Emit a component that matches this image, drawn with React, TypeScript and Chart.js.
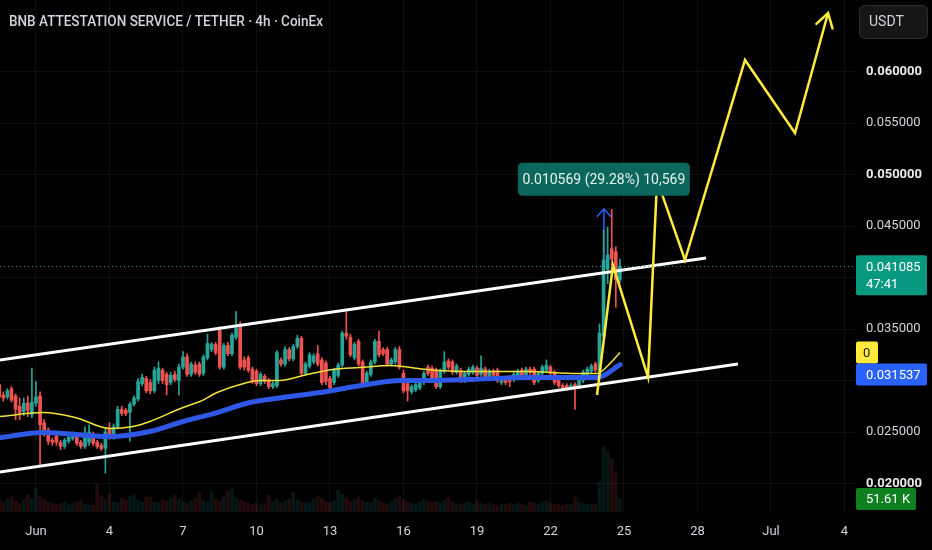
import React, { useEffect, useRef } from 'react';
import { Chart, registerables } from 'chart.js';

Chart.register(...registerables);

// ---------- text ----------
const TITLE = 'BNB ATTESTATION SERVICE / TETHER · 4h · CoinEx';
const CURRENCY = 'USDT';
const COUNTDOWN = '47:41';
const YELLOW_MA_LABEL = '0';

// ---------- time axis (days from Jun 1 00:00) ----------
const FIRST_CANDLE_DAY = -1.5;
const CANDLE_DAYS = 1 / 6; // 4h
const X_TICKS = [0, 3, 6, 9, 12, 15, 18, 21, 24, 27, 30, 33];
const X_MIN = -1.469;
const X_MAX = 33.47;

// ---------- price axis ----------
const Y_TICKS = [0.02, 0.025, 0.03, 0.035, 0.04, 0.045, 0.05, 0.055, 0.06];
const Y_MIN = 0.017233;
const Y_MAX = 0.066942;
const VOL_MAX = 2033;

// ---------- candles ----------
const opens = [
  0.0296, 0.0286, 0.0284, 0.0292, 0.0285, 0.0275, 0.027, 0.0278, 0.0267, 0.0278,
  0.0285, 0.0259, 0.0252, 0.0242, 0.0246, 0.024, 0.0236, 0.0241, 0.0244, 0.0247,
  0.024, 0.0236, 0.024, 0.0248, 0.024, 0.0237, 0.0234, 0.0254, 0.0245, 0.0255,
  0.0272, 0.0271, 0.0269, 0.0277, 0.0282, 0.0297, 0.0302, 0.0298, 0.029, 0.03,
  0.031, 0.0306, 0.0298, 0.0306, 0.03, 0.0313, 0.0323, 0.0306, 0.0315, 0.0316,
  0.0307, 0.0322, 0.033, 0.0335, 0.0349, 0.0313, 0.0334, 0.0326, 0.0342, 0.0353,
  0.032, 0.0322, 0.0311, 0.0309, 0.0297, 0.0304, 0.03, 0.0294, 0.0295, 0.032,
  0.0316, 0.033, 0.0321, 0.0333, 0.0341, 0.0307, 0.0314, 0.0318, 0.0326, 0.032,
  0.0317, 0.0302, 0.0298, 0.0305, 0.0315, 0.0346, 0.0342, 0.0322, 0.0338, 0.0318,
  0.0298, 0.0306, 0.0318, 0.0338, 0.033, 0.033, 0.0316, 0.0318, 0.033, 0.0307,
  0.0297, 0.0289, 0.0291, 0.0293, 0.0298, 0.0313, 0.0312, 0.031, 0.0294, 0.0309,
  0.0319, 0.0318, 0.0308, 0.031, 0.03, 0.0306, 0.0308, 0.0312, 0.0306, 0.0311,
  0.0303, 0.0309, 0.031, 0.0298, 0.0302, 0.0303, 0.0301, 0.0304, 0.031, 0.0305,
  0.0311, 0.0311, 0.03, 0.0307, 0.031, 0.0313, 0.0308, 0.03, 0.0295, 0.0295,
  0.0293, 0.0296, 0.0294, 0.03, 0.0306, 0.0309, 0.0316, 0.0309, 0.0343, 0.0408,
  0.0428, 0.0425, 0.0398,
];
const highs = [
  0.0298, 0.0289, 0.0292, 0.0294, 0.0287, 0.0283, 0.0283, 0.0285, 0.0312, 0.0299,
  0.0289, 0.0262, 0.0254, 0.0244, 0.025, 0.0242, 0.0244, 0.0247, 0.025, 0.0249,
  0.0242, 0.0255, 0.0257, 0.025, 0.0242, 0.0239, 0.0253, 0.0259, 0.0258, 0.0275,
  0.0275, 0.0273, 0.0279, 0.0285, 0.0302, 0.0306, 0.0304, 0.0301, 0.0313, 0.0318,
  0.0312, 0.0308, 0.0308, 0.0309, 0.0316, 0.0328, 0.0326, 0.0318, 0.0318, 0.0318,
  0.0325, 0.0345, 0.0337, 0.0337, 0.0352, 0.0336, 0.0337, 0.0346, 0.0367, 0.0357,
  0.0323, 0.0324, 0.0313, 0.0311, 0.0308, 0.0306, 0.0302, 0.0299, 0.0329, 0.0322,
  0.0333, 0.0332, 0.0335, 0.0344, 0.0343, 0.0318, 0.0327, 0.0326, 0.0334, 0.0322,
  0.0319, 0.0304, 0.0312, 0.0317, 0.0348, 0.0367, 0.0345, 0.0337, 0.034, 0.032,
  0.0309, 0.032, 0.034, 0.0348, 0.0332, 0.0332, 0.0322, 0.0332, 0.0333, 0.031,
  0.0299, 0.0296, 0.0298, 0.03, 0.0309, 0.0315, 0.0314, 0.0312, 0.0311, 0.0328,
  0.0321, 0.032, 0.0316, 0.0312, 0.0309, 0.0313, 0.0315, 0.0314, 0.0324, 0.0313,
  0.0311, 0.0311, 0.0312, 0.0304, 0.0304, 0.0305, 0.0308, 0.0311, 0.0312, 0.0313,
  0.0313, 0.0313, 0.0309, 0.0315, 0.032, 0.0315, 0.031, 0.0302, 0.0297, 0.0297,
  0.0297, 0.0298, 0.0302, 0.031, 0.0313, 0.0316, 0.0318, 0.0355, 0.0446, 0.0449,
  0.0466, 0.043, 0.0418,
];
const lows = [
  0.0281, 0.028, 0.0282, 0.0279, 0.0262, 0.0262, 0.0266, 0.0265, 0.0264, 0.0275,
  0.0216, 0.0246, 0.0238, 0.0237, 0.0237, 0.0233, 0.0234, 0.0239, 0.0242, 0.0237,
  0.0234, 0.0234, 0.0237, 0.0237, 0.0234, 0.0232, 0.021, 0.0243, 0.0243, 0.0253,
  0.0266, 0.0266, 0.0241, 0.0275, 0.028, 0.0295, 0.0288, 0.0287, 0.0288, 0.0297,
  0.0297, 0.0286, 0.0296, 0.0299, 0.0286, 0.0311, 0.0304, 0.0304, 0.0306, 0.0304,
  0.0305, 0.032, 0.0328, 0.0325, 0.0311, 0.0311, 0.0324, 0.0324, 0.034, 0.0311,
  0.031, 0.0308, 0.0297, 0.0295, 0.0295, 0.0297, 0.0292, 0.0292, 0.0293, 0.0314,
  0.0314, 0.0319, 0.0319, 0.0331, 0.0305, 0.0305, 0.0312, 0.0316, 0.0314, 0.0296,
  0.0296, 0.0291, 0.0296, 0.0303, 0.0313, 0.034, 0.0323, 0.032, 0.0314, 0.0296,
  0.0296, 0.0304, 0.0316, 0.0323, 0.0324, 0.0314, 0.0314, 0.0316, 0.0311, 0.0288,
  0.028, 0.0287, 0.0289, 0.0291, 0.0296, 0.0305, 0.03, 0.0292, 0.0292, 0.0307,
  0.0311, 0.0306, 0.0306, 0.0298, 0.0298, 0.0304, 0.0306, 0.0303, 0.0304, 0.03,
  0.0301, 0.0303, 0.0298, 0.0296, 0.0296, 0.0294, 0.0299, 0.0302, 0.0301, 0.0303,
  0.0306, 0.0296, 0.0298, 0.0305, 0.0308, 0.0305, 0.0296, 0.0293, 0.0291, 0.0291,
  0.0291, 0.0272, 0.0292, 0.0298, 0.0304, 0.0307, 0.0308, 0.0307, 0.034, 0.0394,
  0.0405, 0.0371, 0.0395,
];
const closes = [
  0.0284, 0.0283, 0.029, 0.0281, 0.0272, 0.0268, 0.0278, 0.0271, 0.0279, 0.0284,
  0.0257, 0.025, 0.0241, 0.024, 0.024, 0.0236, 0.0242, 0.0245, 0.0248, 0.0239,
  0.0236, 0.0245, 0.025, 0.0239, 0.0236, 0.0234, 0.025, 0.0245, 0.0255, 0.0272,
  0.0268, 0.0268, 0.0277, 0.0283, 0.0299, 0.0303, 0.029, 0.029, 0.031, 0.0312,
  0.03, 0.0296, 0.0305, 0.0301, 0.0313, 0.0323, 0.0306, 0.0316, 0.0308, 0.0306,
  0.0323, 0.0336, 0.0335, 0.0327, 0.0313, 0.0334, 0.0326, 0.0344, 0.0351, 0.0313,
  0.0313, 0.031, 0.0299, 0.0297, 0.0306, 0.0299, 0.0294, 0.0297, 0.0327, 0.0316,
  0.033, 0.0321, 0.0333, 0.0341, 0.0307, 0.0316, 0.0325, 0.0324, 0.0316, 0.0298,
  0.0299, 0.0293, 0.031, 0.0315, 0.0346, 0.0343, 0.0325, 0.0335, 0.0316, 0.0298,
  0.0307, 0.0318, 0.0338, 0.0325, 0.0326, 0.0316, 0.032, 0.033, 0.0313, 0.029,
  0.029, 0.0294, 0.0296, 0.0298, 0.0307, 0.0307, 0.0302, 0.0294, 0.0309, 0.0318,
  0.0313, 0.0308, 0.0314, 0.03, 0.0307, 0.0311, 0.0313, 0.0305, 0.0312, 0.0302,
  0.0309, 0.0305, 0.03, 0.0302, 0.0298, 0.0299, 0.0306, 0.0309, 0.0303, 0.0311,
  0.0308, 0.0298, 0.0307, 0.0313, 0.0315, 0.0307, 0.0298, 0.0295, 0.0293, 0.0293,
  0.0295, 0.0293, 0.03, 0.0308, 0.0311, 0.0314, 0.031, 0.0346, 0.0417, 0.0422,
  0.0418, 0.0398, 0.041085,
];
// volume in thousands
const volumesK = [
  45, 38, 52, 60, 42, 35, 48, 70, 55, 95,
  62, 48, 40, 36, 30, 34, 38, 28, 32, 40,
  45, 30, 26, 28, 110, 65, 50, 72, 40, 36,
  55, 48, 62, 70, 45, 38, 60, 58, 40, 35,
  48, 42, 55, 68, 50, 40, 36, 44, 52, 75,
  45, 38, 80, 50, 42, 60, 85, 90, 55, 48,
  40, 36, 30, 34, 28, 32, 66, 40, 48, 36,
  44, 52, 78, 48, 40, 35, 38, 50, 62, 55,
  42, 38, 46, 88, 70, 56, 42, 50, 60, 45,
  38, 40, 58, 46, 36, 30, 42, 55, 65, 48,
  40, 35, 33, 40, 52, 44, 38, 42, 36, 48,
  60, 40, 32, 30, 35, 38, 28, 44, 34, 30,
  36, 28, 26, 32, 30, 34, 28, 36, 30, 26,
  40, 34, 30, 38, 44, 36, 30, 28, 26, 32,
  30, 60, 38, 34, 30, 28, 32, 120, 260, 240,
  210, 160, 51.61,
];

// ---------- moving averages ----------
const yellowMaDays = [-1.47, 0.29, 1.6, 3.02, 3.96, 4.65, 6.0, 6.69, 7.39, 8.33, 9.14, 9.96, 11.06, 12.12, 13.22, 14.45, 14.98, 15.96, 17.71, 20.04, 22.08, 22.9, 23.31, 23.84];
const yellowMaValues = [0.0265, 0.02689, 0.02641, 0.02534, 0.02553, 0.02602, 0.02738, 0.02796, 0.02883, 0.02961, 0.03, 0.03, 0.03058, 0.03107, 0.03126, 0.03146, 0.03136, 0.03107, 0.03087, 0.03087, 0.03068, 0.03068, 0.03136, 0.03272];
const blueMaDays = [-1.47, 0.29, 3.02, 4.65, 6.0, 7.39, 8.73, 10.08, 11.59, 13.51, 14.86, 16.2, 17.71, 20.04, 22.9, 23.84];
const blueMaValues = [0.02447, 0.02495, 0.02456, 0.02505, 0.02602, 0.02689, 0.02786, 0.02835, 0.02883, 0.02961, 0.03, 0.03, 0.0301, 0.03029, 0.03029, 0.031537];

// ---------- drawings ----------
const upperChannelDays = [-1.47, 27.35];
const upperChannelValues = [0.03199, 0.04189];
const lowerChannelDays = [-1.47, 28.65];
const lowerChannelValues = [0.02112, 0.0316];
const projectionDays = [22.9, 23.55, 24.98, 25.35, 26.49, 28.94, 30.98, 32.33];
const projectionValues = [0.02859, 0.04121, 0.03034, 0.04947, 0.0417, 0.06112, 0.05403, 0.06568];

const MEASURE_DAY = 23.18;
const MEASURE_FROM = 0.0361;
const MEASURE_CHANGE = 0.010569;
const MEASURE_PCT = 29.28;
const MEASURE_TICKS = 10569;

// ---------- styles ----------
const BG = '#000000';
const UP = '#26a69a';
const DOWN = '#ef5350';
const UP_VOL = 'rgba(38,166,154,0.14)';
const DOWN_VOL = 'rgba(239,83,80,0.14)';
const GRID = 'rgba(255,255,255,0.06)';
const TEXT = '#d1d4dc';
const FONT = 'Roboto, "Noto Sans", sans-serif';

const candleTimes = opens.map((_, i) => FIRST_CANDLE_DAY + i * CANDLE_DAYS);
const isUp = (i: number) => closes[i] >= opens[i];
const pts = (xs: number[], ys: number[]) => xs.map((x, i) => ({ x, y: ys[i] }));
const isRoundTick = (c: any) => {
  const v = c && c.tick ? c.tick.value : NaN;
  return Number.isFinite(v) && Math.abs(v * 100 - Math.round(v * 100)) < 1e-6;
};

function roundRect(ctx: CanvasRenderingContext2D, x: number, y: number, w: number, h: number, r: number) {
  ctx.beginPath();
  ctx.moveTo(x + r, y);
  ctx.lineTo(x + w - r, y);
  ctx.quadraticCurveTo(x + w, y, x + w, y + r);
  ctx.lineTo(x + w, y + h - r);
  ctx.quadraticCurveTo(x + w, y + h, x + w - r, y + h);
  ctx.lineTo(x + r, y + h);
  ctx.quadraticCurveTo(x, y + h, x, y + h - r);
  ctx.lineTo(x, y + r);
  ctx.quadraticCurveTo(x, y, x + r, y);
  ctx.closePath();
}

const overlayPlugin = {
  id: 'tvOverlay',
  beforeDraw(chart: any) {
    const { ctx, width, height } = chart;
    ctx.save();
    ctx.fillStyle = BG;
    ctx.fillRect(0, 0, width, height);
    ctx.restore();
  },
  beforeDatasetsDraw(chart: any) {
    const { ctx, scales } = chart;
    const px = scales.x.getPixelForValue(MEASURE_DAY);
    const y0 = scales.y.getPixelForValue(MEASURE_FROM);
    const y1 = scales.y.getPixelForValue(MEASURE_FROM + MEASURE_CHANGE);
    ctx.save();
    ctx.strokeStyle = '#2962ff';
    ctx.lineWidth = 1.5;
    ctx.beginPath();
    ctx.moveTo(px, y0);
    ctx.lineTo(px, y1);
    ctx.stroke();
    ctx.beginPath();
    ctx.moveTo(px - 7, y1 + 8);
    ctx.lineTo(px, y1);
    ctx.lineTo(px + 7, y1 + 8);
    ctx.stroke();
    ctx.restore();
  },
  afterDatasetsDraw(chart: any) {
    const { ctx, scales, chartArea } = chart;
    const lastClose = closes[closes.length - 1];
    const py = scales.y.getPixelForValue(lastClose);
    ctx.save();
    // dotted last-price line
    ctx.strokeStyle = 'rgba(38,166,154,0.9)';
    ctx.lineWidth = 1;
    ctx.setLineDash([1, 3]);
    ctx.beginPath();
    ctx.moveTo(chartArea.left, Math.round(py) + 0.5);
    ctx.lineTo(chartArea.right, Math.round(py) + 0.5);
    ctx.stroke();
    ctx.setLineDash([]);

    // projection arrowhead
    const meta = chart.getDatasetMeta(7);
    const n = meta.data.length;
    if (n >= 2) {
      const a = meta.data[n - 2];
      const b = meta.data[n - 1];
      const ang = Math.atan2(b.y - a.y, b.x - a.x);
      const L = 16;
      ctx.strokeStyle = '#ffeb3b';
      ctx.lineWidth = 2.5;
      ctx.lineCap = 'round';
      ctx.beginPath();
      ctx.moveTo(b.x - L * Math.cos(ang - 0.55), b.y - L * Math.sin(ang - 0.55));
      ctx.lineTo(b.x, b.y);
      ctx.lineTo(b.x - L * Math.cos(ang + 0.55), b.y - L * Math.sin(ang + 0.55));
      ctx.stroke();
    }

    // measurement label
    const mx = scales.x.getPixelForValue(MEASURE_DAY);
    const my = scales.y.getPixelForValue(MEASURE_FROM + MEASURE_CHANGE);
    const text = `${MEASURE_CHANGE.toFixed(6)} (${MEASURE_PCT.toFixed(2)}%) ${MEASURE_TICKS.toLocaleString('en-US')}`;
    const bw = 172;
    const bh = 33;
    const bx = mx - bw / 2;
    const by = my - 13 - bh;
    ctx.fillStyle = '#0b675b';
    roundRect(ctx, bx, by, bw, bh, 5);
    ctx.fill();
    ctx.fillStyle = '#e6f2f0';
    ctx.font = `14px ${FONT}`;
    ctx.textAlign = 'center';
    ctx.textBaseline = 'middle';
    ctx.fillText(text, mx, by + bh / 2 + 1);
    ctx.restore();
  },
  afterDraw(chart: any) {
    const { ctx, scales, chartArea } = chart;
    ctx.save();
    // title
    ctx.font = `500 14px ${FONT}`;
    ctx.fillStyle = TEXT;
    ctx.textBaseline = 'middle';
    ctx.textAlign = 'left';
    const w = ctx.measureText(TITLE).width;
    ctx.save();
    ctx.translate(9, 22);
    ctx.scale(314 / w, 1);
    ctx.fillText(TITLE, 0, 0);
    ctx.restore();

    const lx = chartArea.right;
    const tx = lx + 10;
    ctx.font = `13px ${FONT}`;

    // last price label
    const lastClose = closes[closes.length - 1];
    const py = scales.y.getPixelForValue(lastClose);
    ctx.fillStyle = '#089981';
    roundRect(ctx, lx, py - 11, 71, 40, 2);
    ctx.fill();
    ctx.fillStyle = '#ffffff';
    ctx.fillText(lastClose.toFixed(6), tx, py + 1);
    ctx.fillText(COUNTDOWN, tx, py + 18);

    // yellow MA label
    const yy = scales.y.getPixelForValue(yellowMaValues[yellowMaValues.length - 1]);
    ctx.fillStyle = '#ffeb3b';
    roundRect(ctx, lx, yy - 11, 22, 22, 2);
    ctx.fill();
    ctx.fillStyle = '#131722';
    ctx.fillText(YELLOW_MA_LABEL, lx + 7, yy + 1);

    // blue MA label (stacked below yellow if overlapping)
    const blueVal = blueMaValues[blueMaValues.length - 1];
    const byy = Math.max(scales.y.getPixelForValue(blueVal) - 11, yy + 11);
    ctx.fillStyle = '#2962ff';
    roundRect(ctx, lx, byy, 71, 22, 2);
    ctx.fill();
    ctx.fillStyle = '#ffffff';
    ctx.fillText(blueVal.toFixed(6), tx, byy + 12);

    // volume label
    const lastVol = volumesK[volumesK.length - 1];
    const vy = scales.yv.getPixelForValue(lastVol);
    ctx.fillStyle = '#0f8020';
    roundRect(ctx, lx, vy - 11, 60, 22, 2);
    ctx.fill();
    ctx.fillStyle = '#ffffff';
    ctx.fillText(`${lastVol.toFixed(2)} K`, tx, vy + 1);

    // currency button
    ctx.fillStyle = '#161616';
    ctx.strokeStyle = '#2e2e2e';
    ctx.lineWidth = 1;
    roundRect(ctx, 859.5, 5.5, 68, 33, 6);
    ctx.fill();
    ctx.stroke();
    ctx.fillStyle = TEXT;
    ctx.font = `14px ${FONT}`;
    ctx.fillText(CURRENCY, 869, 22.5);
    ctx.restore();
  },
};

export default function App() {
  const ref = useRef<HTMLCanvasElement>(null);
  useEffect(() => {
    document.body.style.margin = '0';
    document.body.style.background = BG;
    const canvas = ref.current;
    if (!canvas) return;

    const candleColors = opens.map((_, i) => (isUp(i) ? UP : DOWN));
    const volColors = opens.map((_, i) => (isUp(i) ? UP_VOL : DOWN_VOL));

    const chart = new Chart(canvas, {
      type: 'bar',
      data: {
        datasets: [
          {
            type: 'bar',
            label: 'Volume',
            data: candleTimes.map((t, i) => ({ x: t, y: volumesK[i] })),
            yAxisID: 'yv',
            backgroundColor: volColors,
            barThickness: 3,
            grouped: false,
            order: 6,
          } as any,
          {
            type: 'bar',
            label: 'Wicks',
            data: candleTimes.map((t, i) => ({ x: t, y: [lows[i], highs[i]] })),
            backgroundColor: candleColors,
            barThickness: 1,
            grouped: false,
            order: 5,
          } as any,
          {
            type: 'bar',
            label: 'Bodies',
            data: candleTimes.map((t, i) => ({ x: t, y: [Math.min(opens[i], closes[i]), Math.max(opens[i], closes[i])] })),
            backgroundColor: candleColors,
            barThickness: 3,
            minBarLength: 1,
            grouped: false,
            order: 4,
          } as any,
          {
            type: 'line',
            label: 'MA fast',
            data: pts(yellowMaDays, yellowMaValues),
            borderColor: '#f2e33a',
            borderWidth: 1.5,
            pointRadius: 0,
            cubicInterpolationMode: 'monotone',
            order: 3,
          } as any,
          {
            type: 'line',
            label: 'MA slow',
            data: pts(blueMaDays, blueMaValues),
            borderColor: '#2f58e6',
            borderWidth: 5,
            pointRadius: 0,
            cubicInterpolationMode: 'monotone',
            borderCapStyle: 'round',
            order: 2,
          } as any,
          {
            type: 'line',
            label: 'Upper channel',
            data: pts(upperChannelDays, upperChannelValues),
            borderColor: '#ffffff',
            borderWidth: 3,
            pointRadius: 0,
            order: 1,
          } as any,
          {
            type: 'line',
            label: 'Lower channel',
            data: pts(lowerChannelDays, lowerChannelValues),
            borderColor: '#ffffff',
            borderWidth: 3,
            pointRadius: 0,
            order: 1,
          } as any,
          {
            type: 'line',
            label: 'Projection',
            data: pts(projectionDays, projectionValues),
            borderColor: '#ffeb3b',
            borderWidth: 2.5,
            pointRadius: 0,
            borderJoinStyle: 'miter',
            order: 0,
          } as any,
        ],
      },
      options: {
        animation: false,
        responsive: false,
        maintainAspectRatio: false,
        layout: { padding: 0 },
        plugins: { legend: { display: false }, tooltip: { enabled: false } },
        scales: {
          x: {
            type: 'linear',
            min: X_MIN,
            max: X_MAX,
            offset: false,
            grid: { color: GRID, drawTicks: false, offset: false },
            border: { display: false },
            ticks: {
              color: TEXT,
              font: { family: FONT, size: 13 },
              padding: 12,
              maxRotation: 0,
              autoSkip: false,
              callback: (v: any) => {
                const d = Number(v);
                if (d === 0) return 'Jun';
                if (d === 30) return 'Jul';
                return d < 30 ? String(d + 1) : String(d - 29);
              },
            },
            afterBuildTicks: (axis: any) => {
              axis.ticks = X_TICKS.map((value) => ({ value }));
            },
            afterFit: (axis: any) => {
              axis.height = 38;
              axis.paddingLeft = 0;
              axis.paddingRight = 0;
            },
          },
          y: {
            type: 'linear',
            position: 'right',
            min: Y_MIN,
            max: Y_MAX,
            grid: { color: GRID, drawTicks: false },
            border: { display: false },
            ticks: {
              color: (c: any) => (isRoundTick(c) ? '#e8eaee' : TEXT),
              font: (c: any) => ({
                family: FONT,
                size: 13,
                weight: isRoundTick(c) ? 'bold' : 'normal',
              }),
              padding: 10,
              autoSkip: false,
              callback: (v: any) => Number(v).toFixed(6),
            },
            afterBuildTicks: (axis: any) => {
              axis.ticks = Y_TICKS.map((value) => ({ value }));
            },
            afterFit: (axis: any) => {
              axis.width = 76;
              axis.paddingTop = 0;
              axis.paddingBottom = 0;
            },
          },
          yv: {
            type: 'linear',
            display: false,
            min: 0,
            max: VOL_MAX,
          },
        },
      } as any,
      plugins: [overlayPlugin],
    });
    return () => chart.destroy();
  }, []);

  return (
    <div style={{ width: 932, height: 550, background: BG }}>
      <canvas ref={ref} width={932} height={550} style={{ display: 'block' }} />
    </div>
  );
}
